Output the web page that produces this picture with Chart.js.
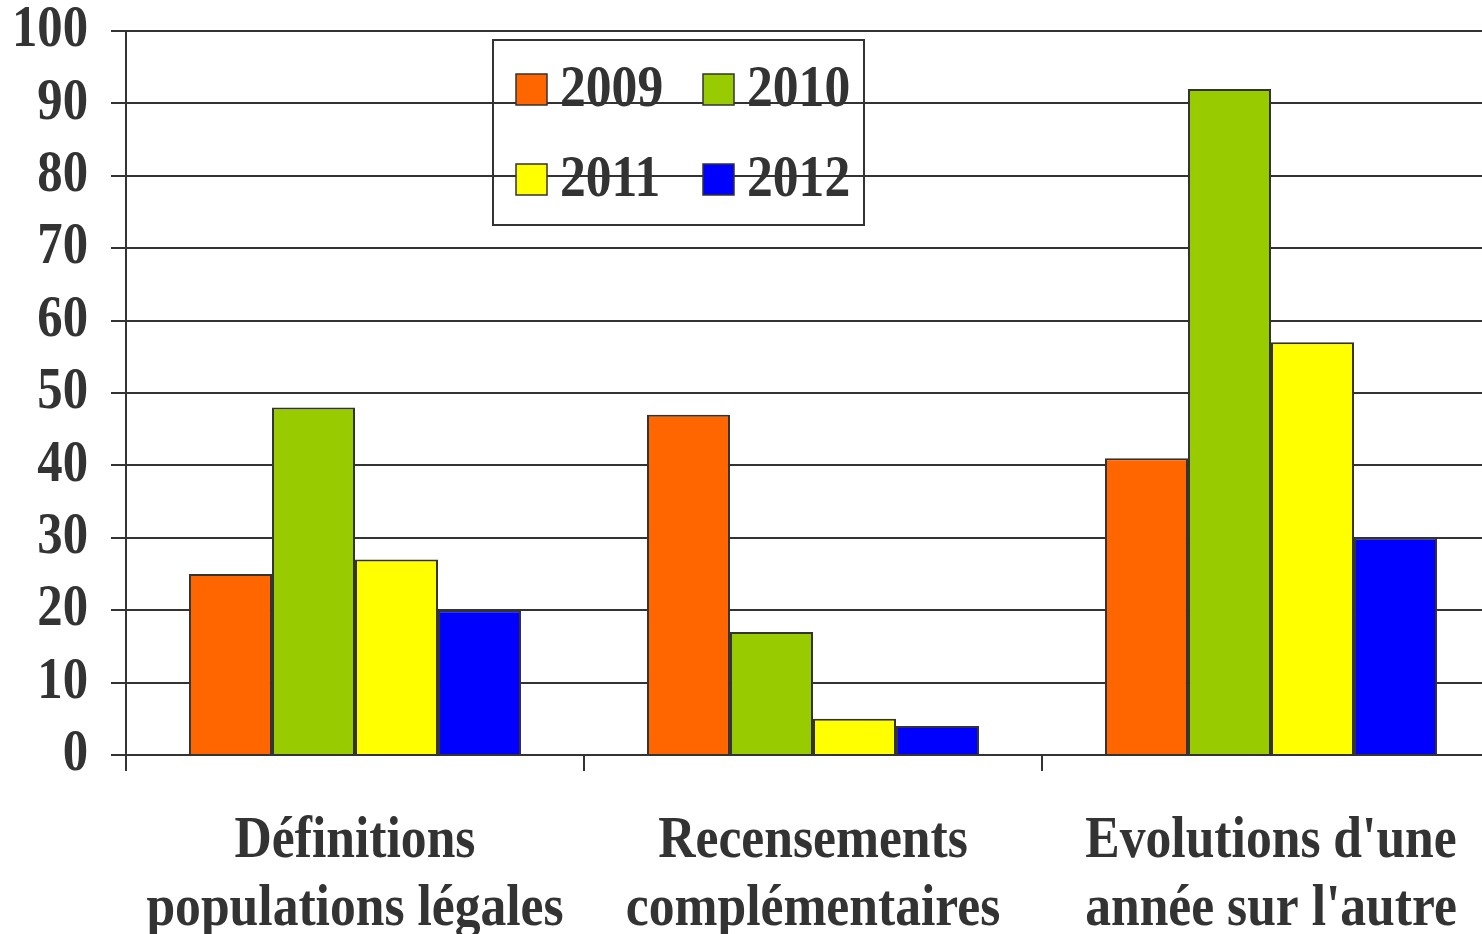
<!DOCTYPE html>
<html lang="fr">
<head>
<meta charset="utf-8">
<title>Questions par thème</title>
<script src="https://cdn.jsdelivr.net/npm/chart.js@4/dist/chart.umd.min.js"></script>
<style>
    html, body { margin: 0; padding: 0; background: #fff; overflow: hidden; }
    #chart { display: block; }
</style>
</head>
<body>
<canvas id="chart" width="1500" height="934"></canvas>
<script>
// Chart data
const categories = [
    ['Définitions', 'populations légales'],
    ['Recensements', 'complémentaires'],
    ["Evolutions d'une", "année sur l'autre"]
];
const years = ['2009', '2010', '2011', '2012'];
const values2009 = [25, 47, 41];
const values2010 = [48, 17, 92];
const values2011 = [27, 5, 57];
const values2012 = [20, 4, 30];
const yTicks = [0, 10, 20, 30, 40, 50, 60, 70, 80, 90, 100];

const seriesValues = [values2009, values2010, values2011, values2012];
const seriesColors = ['#ff6600', '#99cc00', '#ffff00', '#0000ff'];
const ink = '#333333';
const serif = '"Liberation Serif", "Times New Roman", serif';

document.addEventListener('DOMContentLoaded', function() {
    const canvas = document.getElementById('chart');
    const ctx = canvas.getContext('2d');

    // The labels use a narrow bold Times; squeeze every text run horizontally
    const TEXT_SQUEEZE = 0.86;
    const rawFillText = ctx.fillText;
    ctx.fillText = function(text, x, y) {
        this.save();
        this.translate(x, y);
        this.scale(TEXT_SQUEEZE, 1);
        rawFillText.call(this, text, 0, 0);
        this.restore();
    };

    // Two-column legend boxed inside the plot area
    const boxedLegend = {
        id: 'boxedLegend',
        afterDatasetsDraw(chart) {
            const c = chart.ctx;
            const area = chart.chartArea;
            const left = area.left + 367;
            const top = area.top + 9;
            c.save();
            c.strokeStyle = ink;
            c.lineWidth = 2;
            c.strokeRect(left, top, 371, 185);

            c.font = 'bold 60px ' + serif;
            c.textBaseline = 'middle';
            c.textAlign = 'left';
            chart.data.datasets.forEach((ds, i) => {
                const col = i % 2;
                const row = Math.floor(i / 2);
                const bx = left + 23 + col * 187;
                const by = top + 34 + row * 90;
                c.fillStyle = ds.backgroundColor;
                c.fillRect(bx, by, 31, 31);
                c.lineWidth = 1.5;
                c.strokeStyle = ink;
                c.strokeRect(bx, by, 31, 31);
                c.fillStyle = ink;
                c.fillText(ds.label, bx + 44, by + 16);
            });
            c.restore();
        }
    };

    new Chart(canvas, {
        type: 'bar',
        data: {
            labels: categories,
            datasets: years.map((year, i) => ({
                label: year,
                data: seriesValues[i],
                backgroundColor: seriesColors[i],
                borderColor: ink,
                borderWidth: 2,
                categoryPercentage: 0.725,
                barPercentage: 1.0
            }))
        },
        options: {
            responsive: false,
            animation: false,
            devicePixelRatio: 1,
            layout: {
                padding: { top: 31, left: 0, right: 0, bottom: 0 }
            },
            plugins: {
                legend: { display: false },
                tooltip: { enabled: false }
            },
            scales: {
                x: {
                    offset: true,
                    grid: {
                        offset: true,
                        drawOnChartArea: false,
                        drawTicks: true,
                        tickLength: 16,
                        color: ink,
                        lineWidth: 2
                    },
                    border: { display: true, color: ink, width: 2 },
                    ticks: {
                        color: ink,
                        autoSkip: false,
                        maxRotation: 0,
                        minRotation: 0,
                        padding: 36,
                        font: { family: serif, size: 60, weight: 'bold', lineHeight: 1.14 }
                    },
                    afterFit(scale) {
                        scale.height = 179;
                        scale.paddingLeft = 0;
                        scale.paddingRight = 0;
                    }
                },
                y: {
                    min: 0,
                    max: 100,
                    afterBuildTicks(scale) {
                        scale.ticks = yTicks.map(v => ({ value: v }));
                    },
                    grid: {
                        color: ink,
                        lineWidth: 2,
                        drawTicks: true,
                        tickLength: 15
                    },
                    border: { display: true, color: ink, width: 2 },
                    ticks: {
                        color: ink,
                        padding: 23,
                        font: { family: serif, size: 59, weight: 'bold', lineHeight: 1 }
                    },
                    afterFit(scale) {
                        scale.width = 126;
                        scale.paddingTop = 0;
                        scale.paddingBottom = 0;
                    }
                }
            }
        },
        plugins: [boxedLegend]
    });
});
</script>
</body>
</html>
